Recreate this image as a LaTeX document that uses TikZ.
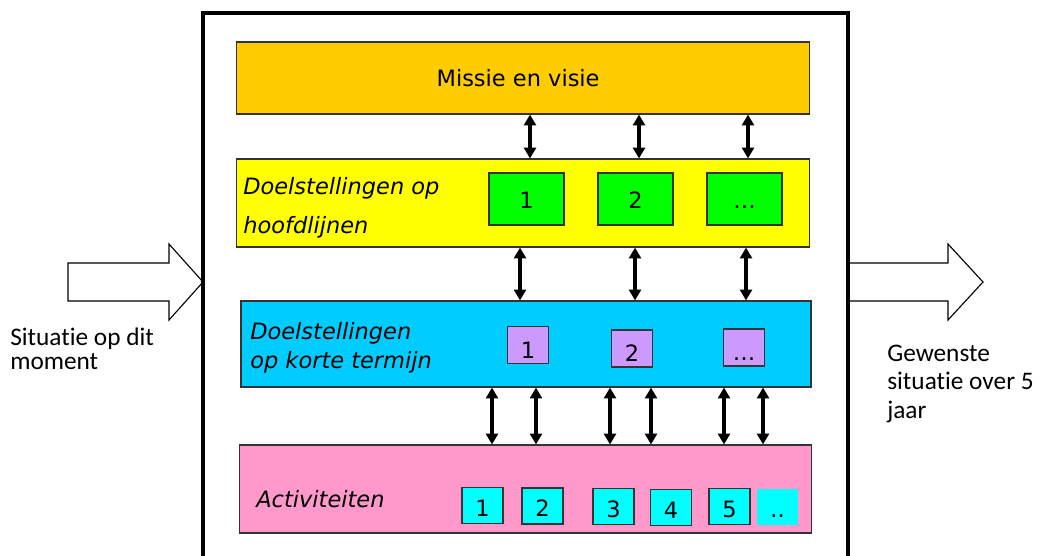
\documentclass[tikz,border=0pt]{standalone}
\usepackage{fontspec}
\setmainfont{DejaVu Sans}
\newfontfamily\sidefont[Ligatures=NoCommon]{Carlito}
\usepackage{tikz}
\usetikzlibrary{arrows.meta,positioning,calc}
\tikzset{every node/.append style={align=center}}
\definecolor{missiecolor}{RGB}{255, 204, 0}
\definecolor{hoofdcolor}{RGB}{255, 255, 0}
\definecolor{kortcolor}{RGB}{0, 204, 255}
\definecolor{activcolor}{RGB}{255, 153, 204}
\definecolor{greenbox}{RGB}{0, 255, 0}
\definecolor{purplebox}{RGB}{204, 153, 255}
\definecolor{cyanbox}{RGB}{0, 255, 255}

\begin{document}
\begin{tikzpicture}[x=0.025cm, y=-0.025cm,
    layer/.style={draw=black!80, line width=0.8pt, inner sep=0pt, font=\fontsize{16}{19}\selectfont},
    layertext/.style={anchor=base west, inner sep=0pt, font=\fontsize{16}{19}\selectfont\itshape},
    smallbox/.style={draw=black!80, line width=0.8pt, inner sep=0pt, font=\fontsize{16}{19}\selectfont},
    goal/.style={smallbox, fill=greenbox, minimum width=53.3pt, minimum height=37pt, text height=14.2pt, text depth=0pt},
    shortgoal/.style={smallbox, fill=purplebox, minimum width=29pt, minimum height=26.3pt, text height=18.5pt, text depth=0pt},
    activity/.style={smallbox, fill=cyanbox, minimum width=29.2pt, minimum height=25.6pt, text height=15.6pt, text depth=0pt},
    link/.style={{Triangle[length=7.6pt,width=8.4pt]}-{Triangle[length=7.6pt,width=8.4pt]}, line width=2.5pt},
    bigarrow/.style={draw=black, line width=0.8pt, fill=white},
    sidetext/.style={anchor=base west, inner sep=0pt, font=\sidefont\fontsize{18}{21}\selectfont}]
    \useasboundingbox (0, 0) rectangle (1043, 555);
    \clip (0, 0) rectangle (1043, 555);

    % Block arrows
    \draw[bigarrow] (68, 263) -- (169, 263) -- (169, 244) -- (203, 282) -- (169, 320) -- (169, 301) -- (68, 301) -- cycle;
    \draw[bigarrow] (848, 263) -- (948, 263) -- (948, 244) -- (983, 282) -- (948, 320) -- (948, 301) -- (848, 301) -- cycle;
    \node[sidetext] (nu1) at (10, 345) {Situatie op dit};
    \node[sidetext] (nu2) at (10, 369) {moment};
    \node[sidetext] (straks1) at (887, 361) {Gewenste};
    \node[sidetext] (straks2) at (887, 389) {situatie over 5};
    \node[sidetext] (straks3) at (887, 418) {jaar};

    % Outer frame
    \draw[line width=2.6pt] (203, 13) rectangle (848, 600);

    % Missie en visie
    \node[layer, fill=missiecolor, minimum width=406.9pt, minimum height=51.2pt] (missie) at (523, 78) {\hspace*{-7pt}Missie en visie};

    % Doelstellingen op hoofdlijnen
    \node[layer, fill=hoofdcolor, minimum width=406.9pt, minimum height=62.6pt] (hoofd) at (523, 203) {};
    \node[layertext] (hoofd1) at (243, 194) {Doelstellingen op};
    \node[layertext] (hoofd2) at (243, 233) {hoofdlijnen};
    \node[goal] (g1) at (526.5, 199) {1};
    \node[goal] (g2) at (635.5, 199) {2};
    \node[goal] (g3) at (744.5, 199) {…};

    % Doelstellingen op korte termijn
    \node[layer, fill=kortcolor, minimum width=405.4pt, minimum height=61.2pt] (kort) at (526, 344) {};
    \node[layertext] (kort1) at (250, 339) {Doelstellingen};
    \node[layertext] (kort2) at (250, 368) {op korte termijn};
    \node[shortgoal] (k1) at (528, 345) {1};
    \node[shortgoal] (k2) at (632, 348.5) {2};
    \node[shortgoal] (k3) at (744, 347.5) {…};

    % Activiteiten
    \node[layer, fill=activcolor, minimum width=406.2pt, minimum height=62.6pt] (activ) at (525.5, 489) {};
    \node[layertext] (activ1) at (256, 507) {Activiteiten};
    \node[activity] (a1) at (482.5, 505.5) {1};
    \node[activity] (a2) at (542.5, 506) {2};
    \node[activity] (a3) at (613.5, 506.5) {3};
    \node[activity] (a4) at (671, 507.5) {4};
    \node[activity] (a5) at (729.5, 506.5) {5};
    \node[activity, draw=none] (a6) at (777.5, 507) {..};

    % Links between the layers
    \draw[link] (530, 0 |- missie.south) -- (530, 0 |- hoofd.north);
    \draw[link] (639, 0 |- missie.south) -- (639, 0 |- hoofd.north);
    \draw[link] (748, 0 |- missie.south) -- (748, 0 |- hoofd.north);

    \draw[link] (520, 0 |- hoofd.south) -- (520, 0 |- kort.north);
    \draw[link] (635, 0 |- hoofd.south) -- (635, 0 |- kort.north);
    \draw[link] (746, 0 |- hoofd.south) -- (746, 0 |- kort.north);

    \draw[link] (492, 0 |- kort.south) -- (492, 0 |- activ.north);
    \draw[link] (536, 0 |- kort.south) -- (536, 0 |- activ.north);
    \draw[link] (610, 0 |- kort.south) -- (610, 0 |- activ.north);
    \draw[link] (651, 0 |- kort.south) -- (651, 0 |- activ.north);
    \draw[link] (724, 0 |- kort.south) -- (724, 0 |- activ.north);
    \draw[link] (763, 0 |- kort.south) -- (763, 0 |- activ.north);
\end{tikzpicture}
\end{document}
